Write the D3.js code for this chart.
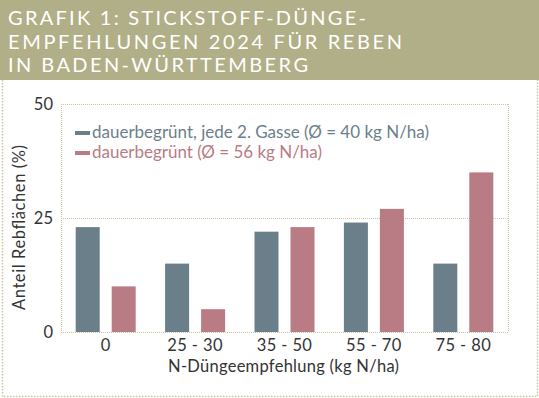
<!DOCTYPE html>
<html><head><meta charset="utf-8">
<script src="https://cdn.jsdelivr.net/npm/d3@7"></script>
<style>html,body{margin:0;padding:0;background:#fff;}svg{display:block;}</style>
</head><body>
<script>
const titleLines = ["GRAFIK 1: STICKSTOFF-DÜNGE-", "EMPFEHLUNGEN 2024 FÜR REBEN", "IN BADEN-WÜRTTEMBERG"];
const categories = ["0", "25 - 30", "35 - 50", "55 - 70", "75 - 80"];
const seriesNames = ["dauerbegrünt, jede 2. Gasse (Ø = 40 kg N/ha)", "dauerbegrünt (Ø = 56 kg N/ha)"];
const seriesA = [23, 15, 22, 24, 15];
const seriesB = [10, 5, 23, 27, 35];
const yTicks = [0, 25, 50];
const xTitle = "N-Düngeempfehlung (kg N/ha)";
const yTitle = "Anteil Rebflächen (%)";

const W = 539, H = 398;
const colors = ["#6b7f8b", "#b97b84"];
const gridColor = "#c9c7a2";
const font = "Lato, 'Open Sans', sans-serif";

const svg = d3.select("body").append("svg").attr("width", W).attr("height", H);

// header
svg.append("rect").attr("x", 0).attr("y", 0).attr("width", W).attr("height", 80).attr("fill", "#b1af87");
const titleWidths = [358, 394, 300];
svg.append("g").selectAll("text").data(titleLines).join("text")
  .attr("x", 8).attr("y", (d, i) => 25 + i * 23.5)
  .attr("fill", "#fff").attr("font-family", font).attr("font-size", 20)
  .attr("textLength", (d, i) => titleWidths[i]).attr("lengthAdjust", "spacing")
  .text(d => d);

// outer dotted panel border
svg.append("path").attr("d", `M2.5,80 V396.5 H537.5 V80`).attr("fill", "none")
  .attr("stroke", gridColor).attr("stroke-width", 1.5).attr("stroke-dasharray", "1.5,1.5");

const m = {left: 61, right: 508, top: 104, bottom: 332};
const x = d3.scaleBand().domain(categories).range([m.left, m.right]);
const y = d3.scaleLinear().domain([0, 50]).range([m.bottom, m.top]);

// gridlines
svg.append("g").selectAll("line").data(yTicks).join("line")
  .attr("x1", m.left).attr("x2", m.right)
  .attr("y1", d => Math.round(y(d)) + 0.5).attr("y2", d => Math.round(y(d)) + 0.5)
  .attr("stroke", gridColor).attr("stroke-width", 1.2).attr("stroke-dasharray", "1,1");
svg.append("g").selectAll("line").data([m.left, m.right]).join("line")
  .attr("x1", d => d + 0.5).attr("x2", d => d + 0.5)
  .attr("y1", m.top).attr("y2", m.bottom)
  .attr("stroke", gridColor).attr("stroke-width", 1.2).attr("stroke-dasharray", "1,1");

// y axis labels
const yAxis = d3.axisLeft(y).tickValues(yTicks).tickSize(0).tickPadding(8);
const gy = svg.append("g").attr("transform", `translate(${m.left},0)`).call(yAxis);
gy.select(".domain").remove();
gy.selectAll("text").attr("font-family", font).attr("font-size", 16.5).attr("fill", "#333").attr("dy", "0.35em");

// x axis labels
const xAxis = d3.axisBottom(x).tickSize(0).tickPadding(0);
const gx = svg.append("g").attr("transform", `translate(0,${m.bottom})`).call(xAxis);
gx.select(".domain").remove();
gx.selectAll("text").attr("font-family", font).attr("font-size", 16.5).attr("fill", "#333")
  .attr("y", 19).attr("dy", null).attr("letter-spacing", "0.4px");

// bars
const bw = 24, off = [-30, 6];
[seriesA, seriesB].forEach((s, si) => {
  svg.append("g").selectAll("rect").data(s).join("rect")
    .attr("x", (d, i) => x(categories[i]) + x.bandwidth() / 2 + off[si])
    .attr("y", d => y(d))
    .attr("width", bw)
    .attr("height", d => y(0) - y(d))
    .attr("fill", colors[si]);
});

// legend
const legendWidths = [337, 230];
seriesNames.forEach((n, i) => {
  svg.append("rect").attr("x", 75).attr("y", 131 + i * 20).attr("width", 15).attr("height", 4).attr("fill", colors[i]);
  svg.append("text").attr("x", 92).attr("y", 138 + i * 20).attr("fill", colors[i])
    .attr("font-family", font).attr("font-size", 17)
    .attr("textLength", legendWidths[i]).attr("lengthAdjust", "spacing").text(n);
});

// axis titles
svg.append("text").attr("x", 168).attr("y", 372)
  .attr("font-family", font).attr("font-size", 16.5).attr("fill", "#333")
  .attr("textLength", 231).attr("lengthAdjust", "spacing").text(xTitle);
svg.append("text").attr("transform", `translate(25,310) rotate(-90)`)
  .attr("font-family", font).attr("font-size", 16.5).attr("fill", "#333")
  .attr("textLength", 165).attr("lengthAdjust", "spacing").text(yTitle);
</script>
</body></html>
